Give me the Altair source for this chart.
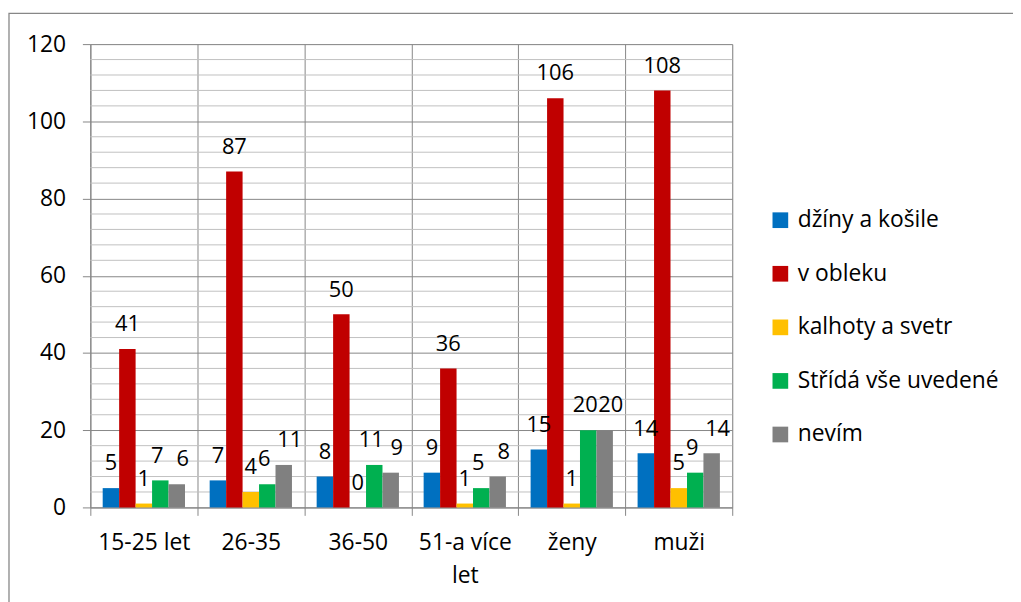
import altair as alt
import pandas as pd

categories = ["15-25 let", "26-35", "36-50", "51-a více let", "ženy", "muži"]
series = ["džíny a košile", "v obleku", "kalhoty a svetr", "Střídá vše uvedené", "nevím"]
colors = ["#0070C0", "#C00000", "#FFC000", "#00B050", "#808080"]

dziny = [5, 7, 8, 9, 15, 14]
oblek = [41, 87, 50, 36, 106, 108]
kalhoty = [1, 4, 0, 1, 1, 5]
strida = [7, 6, 11, 5, 20, 9]
nevim = [6, 11, 9, 8, 20, 14]

y_ticks = [0, 20, 40, 60, 80, 100, 120]
minor_ticks = [4, 8, 12, 16, 24, 28, 32, 36, 44, 48, 52, 56, 64, 68, 72, 76,
               84, 88, 92, 96, 104, 108, 112, 116]

FONT = "Open Sans"
FS = 23
LFS = 22
GRID = "#878787"
MINOR = "#C0C0C0"
W, H = 647, 467

rows = []
for s, vals in zip(series, [dziny, oblek, kalhoty, strida, nevim]):
    for c, v in zip(categories, vals):
        rows.append({"kategorie": c, "serie": s, "hodnota": v})
df = pd.DataFrame(rows)

x_enc = alt.X(
    "kategorie:N", sort=categories, title=None,
    scale=alt.Scale(paddingInner=0, paddingOuter=0),
    axis=alt.Axis(
        grid=True, gridColor=GRID, tickBand="extent", tickSize=8, tickColor=GRID,
        domainColor=GRID, labelAngle=0, labelFontSize=FS, labelFont=FONT,
        labelColor="black", labelPadding=16, labelLineHeight=34, labelBaseline="top",
        labelExpr="datum.value == '51-a více let' ? ['51-a více', 'let'] : datum.label",
    ),
)
y_enc = alt.Y(
    "hodnota:Q", title=None,
    scale=alt.Scale(domain=[0, 120], nice=False),
    axis=alt.Axis(
        values=y_ticks, grid=True, gridColor=GRID, tickSize=8, tickColor=GRID,
        domainColor=GRID, labelFontSize=FS, labelFont=FONT, labelColor="black",
        labelPadding=17,
    ),
)
xoff = alt.XOffset("serie:N", sort=series,
                   scale=alt.Scale(paddingInner=0, paddingOuter=0.75))

base = alt.Chart(df)

minor = alt.Chart(pd.DataFrame({"v": minor_ticks})).mark_rule(
    color=MINOR, strokeWidth=1
).encode(
    y=alt.Y("v:Q", scale=alt.Scale(domain=[0, 120], nice=False)),
    x=alt.value(0), x2=alt.value(W),
)

bars = base.mark_bar(opacity=1).encode(
    x=x_enc, y=y_enc, xOffset=xoff,
    color=alt.Color(
        "serie:N", sort=series,
        scale=alt.Scale(domain=series, range=colors),
        legend=alt.Legend(
            title=None, orient="none", legendX=684, legendY=166,
            symbolType="square", symbolSize=250, symbolStrokeWidth=0,
            labelFontSize=FS, labelFont=FONT, labelColor="black",
            rowPadding=30, labelOffset=6, padding=0, labelLimit=300,
        ),
    ),
)


def label_layer(subset, dx):
    return base.transform_filter(
        alt.FieldOneOfPredicate(field="serie", oneOf=subset)
    ).mark_text(
        fontSize=LFS, font=FONT, color="black", baseline="alphabetic", dy=-18, dx=dx
    ).encode(
        x=alt.X("kategorie:N", sort=categories),
        y=alt.Y("hodnota:Q"),
        xOffset=alt.XOffset("serie:N", sort=series),
        text="hodnota:Q",
    )


labels_main = label_layer(series[:3], 0)
labels_green = label_layer([series[3]], -3)
labels_grey = label_layer([series[4]], 6)

border = alt.Chart(pd.DataFrame({"a": [0]})).mark_rect(
    filled=False, stroke=GRID, strokeWidth=1.3
).encode(
    x=alt.value(-82), x2=alt.value(960), y=alt.value(-31), y2=alt.value(590)
)

chart = alt.layer(minor, bars, labels_main, labels_green, labels_grey, border).properties(
    width=W, height=H,
    autosize=alt.AutoSizeParams(type="none"),
    padding={"left": 83, "top": 34, "right": 283, "bottom": 100},
).configure_view(stroke=None).configure(background="white")

chart.save("out.html", embed_options={"renderer": "svg", "actions": False})
